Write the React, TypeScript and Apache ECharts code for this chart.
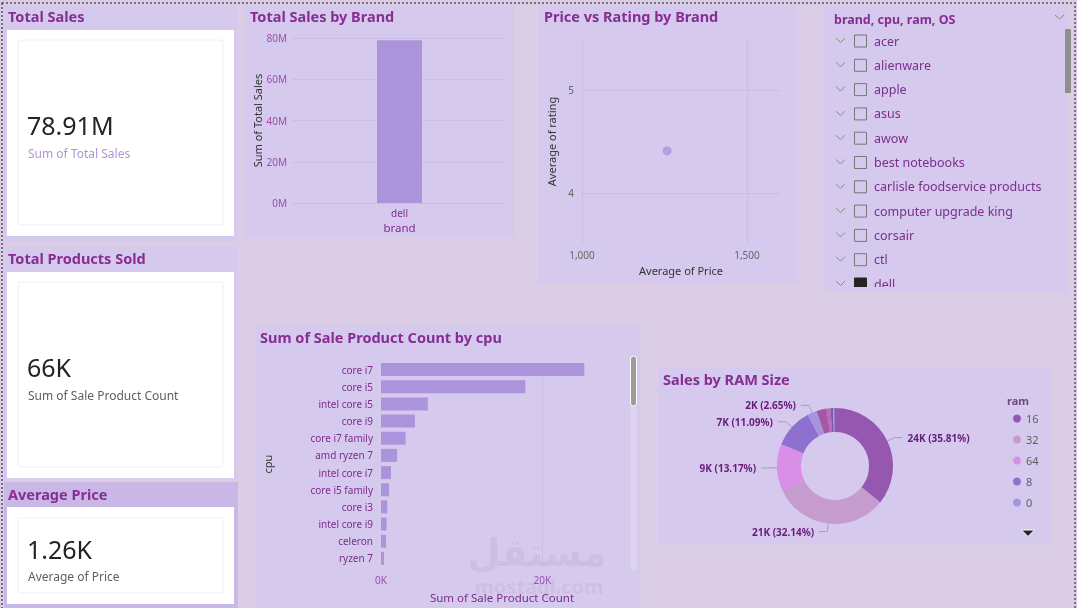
import React, { useEffect, useRef } from "react";
import * as echarts from "echarts";

// ---------- data ----------
const kpiTitles = ["Total Sales", "Total Products Sold", "Average Price"];
const kpiValues = ["78.91M", "66K", "1.26K"];
const kpiSubtitles = ["Sum of Total Sales", "Sum of Sale Product Count", "Average of Price"];

const brandCategories = ["dell"];
const brandSales = [78910000];
const brandTicks = { min: 0, max: 80000000, interval: 20000000 };

const scatterBrands = ["dell"];
const scatterPrice = [1258];
const scatterRating = [4.41];

const cpuCategories = [
  "core i7", "core i5", "intel core i5", "core i9", "core i7 family", "amd ryzen 7",
  "intel core i7", "core i5 family", "core i3", "intel core i9", "celeron", "ryzen 7",
];
const cpuCounts = [25200, 17900, 5800, 4200, 3050, 2000, 1240, 1000, 780, 690, 620, 370];

const ramLabels = ["16", "32", "64", "8", "0", "12", "6", "4", "20", "128"];
const ramCounts = [23642, 21219, 8695, 7322, 1750, 1850, 700, 500, 200, 143];
const ramLegend = ["16", "32", "64", "8", "0"];

const slicerTitle = "brand, cpu, ram, OS";
const slicerItems = [
  "acer", "alienware", "apple", "asus", "awow", "best notebooks",
  "carlisle foodservice products", "computer upgrade king", "corsair", "ctl", "dell",
];
const slicerChecked = ["dell"];

// ---------- styles ----------
const FONT = "'Segoe UI', 'Noto Sans', 'Open Sans', sans-serif";
const PAGE_BG = "#dbcde6";
const PANEL = "#d5c9ed";
const PANEL_DARK = "#c9b8e5";
const TITLE = "#872d93";
const LABEL_PURPLE = "#7b2d8c";
const TICK_PURPLE = "#9a50aa";
const GRID = "#c3b3dc";
const BAR = "#ab94db";
const RAM_COLORS = ["#9657b0", "#c69bcd", "#d98fe8", "#8e70d0", "#a595de", "#a4589f", "#b46cc0", "#8a55a3", "#c48ad2", "#6f66d0"];

function App() {
  const ref = useRef<HTMLDivElement>(null);

  useEffect(() => {
    if (!ref.current) return;
    const chart = echarts.init(ref.current, null, { renderer: "svg" });

    const g: any[] = [];
    g.push({ type: "rect", z: -20, shape: { x: 0, y: 0, width: 1077, height: 608 }, style: { fill: PAGE_BG } });

    const panels = [
      [4, 5, 234, 236, PANEL],
      [4, 247, 234, 232, PANEL],
      [4, 482, 234, 126, PANEL_DARK],
      [245, 5, 269, 233, PANEL],
      [538, 5, 259, 278, PANEL],
      [823, 5, 245, 287, PANEL],
      [255, 325, 386, 283, PANEL],
      [658, 367, 393, 178, PANEL],
    ];
    panels.forEach(([x, y, w, h, c]) =>
      g.push({ type: "rect", z: -10, shape: { x, y, width: w, height: h }, style: { fill: c } })
    );

    const cards = [
      { card: [7, 30, 227, 206], inner: [18, 40, 205, 185], title: 16, value: 125, sub: 153, subColor: "#b094d6" },
      { card: [7, 272, 227, 206], inner: [18, 282, 205, 185], title: 258, value: 367, sub: 395, subColor: "#605e5c" },
      { card: [7, 507, 227, 97], inner: [18, 518, 205, 75], title: 494, value: 549, sub: 576, subColor: "#605e5c" },
    ];
    cards.forEach((c, i) => {
      g.push({ type: "rect", z: -5, shape: { x: c.card[0], y: c.card[1], width: c.card[2], height: c.card[3] }, style: { fill: "#ffffff" } });
      g.push({ type: "rect", z: -4, shape: { x: c.inner[0], y: c.inner[1], width: c.inner[2], height: c.inner[3], r: 3 }, style: { fill: "#ffffff", stroke: "#efefef", lineWidth: 1 } });
      g.push({ type: "text", z: 10, x: 8, y: c.title, style: { text: kpiTitles[i], fill: TITLE, fontSize: 14.5, fontWeight: "bold", fontFamily: FONT, align: "left", verticalAlign: "middle" } });
      g.push({ type: "text", z: 10, x: 27, y: c.value, style: { text: kpiValues[i], fill: "#252423", fontSize: 25, fontFamily: FONT, align: "left", verticalAlign: "middle" } });
      g.push({ type: "text", z: 10, x: 28, y: c.sub, style: { text: kpiSubtitles[i], fill: c.subColor, fontSize: 12, fontFamily: FONT, align: "left", verticalAlign: "middle" } });
    });

    const titles: [string, number, number][] = [
      ["Total Sales by Brand", 250, 16],
      ["Price vs Rating by Brand", 544, 16],
      ["Sum of Sale Product Count by cpu", 260, 337],
      ["Sales by RAM Size", 663, 379],
    ];
    titles.forEach(([t, x, y]) =>
      g.push({ type: "text", z: 10, x, y, style: { text: t, fill: TITLE, fontSize: 14.5, fontWeight: "bold", fontFamily: FONT, align: "left", verticalAlign: "middle" } })
    );

    // slicer
    g.push({ type: "text", z: 10, x: 834, y: 19, style: { text: slicerTitle, fill: TITLE, fontSize: 12.5, fontWeight: "bold", fontFamily: FONT, align: "left", verticalAlign: "middle" } });
    g.push({ type: "polyline", z: 10, shape: { points: [[1055, 15], [1059.5, 19], [1064, 15]] }, style: { stroke: "#8a8a8a", lineWidth: 1, fill: "none" } });
    slicerItems.forEach((name, i) => {
      const cy = 41 + i * 24.3;
      const checked = slicerChecked.includes(name);
      g.push({ type: "polyline", z: 10, shape: { points: [[836, cy - 3], [840.5, cy + 1.5], [845, cy - 3]] }, style: { stroke: "#8a8a8a", lineWidth: 1, fill: "none" } });
      g.push({ type: "rect", z: 10, shape: { x: 854.5, y: cy - 6, width: 12, height: 12 }, style: { fill: checked ? "#252423" : "none", stroke: checked ? "#252423" : "#777777", lineWidth: 1 } });
      g.push({ type: "text", z: 10, x: 874, y: cy, style: { text: name, fill: LABEL_PURPLE, fontSize: 12.5, fontFamily: FONT, align: "left", verticalAlign: "middle" } });
    });
    // list viewport clipping at the slicer bottom
    g.push({ type: "rect", z: 12, shape: { x: 824, y: 287, width: 240, height: 5 }, style: { fill: PANEL } });
    g.push({ type: "rect", z: 12, shape: { x: 823, y: 292, width: 245, height: 20 }, style: { fill: PAGE_BG } });
    g.push({ type: "rect", z: 10, shape: { x: 1065, y: 29, width: 6, height: 64, r: 1 }, style: { fill: "#8f8f8f" } });

    // cpu scrollbar
    g.push({ type: "rect", z: 10, shape: { x: 630.5, y: 405, width: 6, height: 166, r: 3 }, style: { fill: "#ddd3ee" } });
    g.push({ type: "rect", z: 10, shape: { x: 630.5, y: 356, width: 6, height: 50, r: 3 }, style: { fill: "#9c9c9c", stroke: "#ffffff", lineWidth: 1 } });

    // ram legend title & arrow
    g.push({ type: "text", z: 10, x: 1007, y: 400, style: { text: "ram", fill: "#6e4a80", fontSize: 11, fontWeight: "bold", fontFamily: FONT, align: "left", verticalAlign: "middle" } });
    g.push({ type: "polygon", z: 10, shape: { points: [[1021.5, 530], [1034.5, 530], [1028, 536.5]] }, style: { fill: "#252423", stroke: "#ffffff", lineWidth: 1 } });

    // watermark
    g.push({ type: "text", z: 15, x: 537, y: 553, style: { text: "مستقل", fill: "rgba(140,130,150,0.12)", fontSize: 38, fontWeight: "bold", fontFamily: "'DejaVu Sans', sans-serif", align: "center", verticalAlign: "middle" } });
    g.push({ type: "text", z: 15, x: 539, y: 586, style: { text: "mostaql.com", fill: "rgba(140,130,150,0.12)", fontSize: 20, fontWeight: "bold", fontFamily: FONT, align: "center", verticalAlign: "middle" } });

    // dotted frame
    g.push({ type: "rect", z: 20, shape: { x: 2, y: 3, width: 1073, height: 640 }, style: { fill: "none", stroke: "#555555", lineWidth: 1.5, lineDash: [2, 2] } });

    const axisNameDark = { color: "#333333", fontSize: 11, fontFamily: FONT };

    const option: any = {
      animation: false,
      textStyle: { fontFamily: FONT },
      graphic: { elements: g },
      grid: [
        { left: 293, top: 38, width: 213, height: 165 },
        { left: 582, top: 38, width: 198, height: 207 },
        { left: 381, top: 361, width: 242, height: 206 },
      ],
      xAxis: [
        {
          gridIndex: 0, type: "category", data: brandCategories,
          axisLine: { show: false }, axisTick: { show: false },
          axisLabel: { color: LABEL_PURPLE, fontSize: 10, margin: 5 },
          name: "brand", nameLocation: "middle", nameGap: 18,
          nameTextStyle: { color: LABEL_PURPLE, fontSize: 11.5, fontFamily: FONT },
        },
        {
          gridIndex: 1, type: "value", min: 1000, max: 1600, interval: 500,
          axisLine: { show: false }, axisTick: { show: false },
          axisLabel: { color: "#666666", fontSize: 10, margin: 5, showMaxLabel: false, formatter: (v: number) => v.toLocaleString("en-US") },
          splitLine: { show: true, lineStyle: { type: "dotted", color: [GRID, GRID, "transparent"] } },
          name: "Average of Price", nameLocation: "middle", nameGap: 20, nameTextStyle: axisNameDark,
        },
        {
          gridIndex: 2, type: "value", min: 0, max: 30000, interval: 20000,
          axisLine: { show: false }, axisTick: { show: false },
          axisLabel: { color: TICK_PURPLE, fontSize: 10, margin: 8, showMaxLabel: false, formatter: (v: number) => `${v / 1000}K` },
          splitLine: { show: true, lineStyle: { type: "dotted", color: ["transparent", GRID, "transparent"] } },
          name: "Sum of Sale Product Count", nameLocation: "middle", nameGap: 24,
          nameTextStyle: { color: LABEL_PURPLE, fontSize: 11.5, fontFamily: FONT },
        },
      ],
      yAxis: [
        {
          gridIndex: 0, type: "value", min: brandTicks.min, max: brandTicks.max, interval: brandTicks.interval,
          axisLine: { show: false }, axisTick: { show: false },
          axisLabel: { color: TICK_PURPLE, fontSize: 10, margin: 6, formatter: (v: number) => `${v / 1000000}M` },
          splitLine: { show: true, lineStyle: { type: "dotted", color: GRID } },
          name: "Sum of Total Sales", nameLocation: "middle", nameGap: 30, nameTextStyle: axisNameDark,
        },
        {
          gridIndex: 1, type: "value", min: 3.5, max: 5.5, interval: 0.5,
          axisLine: { show: false }, axisTick: { show: false },
          axisLabel: { color: "#666666", fontSize: 10, margin: 8, formatter: (v: number) => (Number.isInteger(v) ? String(v) : "") },
          splitLine: { show: true, lineStyle: { type: "dotted", color: ["transparent", GRID] } },
          name: "Average of rating", nameLocation: "middle", nameGap: 25, nameTextStyle: axisNameDark,
        },
        {
          gridIndex: 2, type: "category", data: cpuCategories, inverse: true,
          axisLine: { show: false }, axisTick: { show: false },
          axisLabel: { color: LABEL_PURPLE, fontSize: 10, margin: 8 },
          name: "cpu", nameLocation: "middle", nameGap: 108,
          nameTextStyle: { color: "#333333", fontSize: 11, fontFamily: FONT },
        },
      ],
      legend: {
        data: ramLegend, orient: "vertical", left: 1008, top: 407, icon: "circle",
        itemWidth: 8, itemHeight: 8, itemGap: 8,
        textStyle: { color: "#605e5c", fontSize: 11, lineHeight: 13, fontFamily: FONT },
      },
      series: [
        {
          type: "bar", xAxisIndex: 0, yAxisIndex: 0, data: brandSales, barWidth: 45,
          itemStyle: { color: BAR },
        },
        {
          type: "scatter", xAxisIndex: 1, yAxisIndex: 1, symbolSize: 9,
          data: scatterBrands.map((b, i) => ({ name: b, value: [scatterPrice[i], scatterRating[i]] })),
          itemStyle: { color: BAR },
        },
        {
          type: "bar", xAxisIndex: 2, yAxisIndex: 2, data: cpuCounts, barWidth: 13,
          itemStyle: { color: BAR },
        },
        {
          type: "pie", center: [835, 466], radius: [34, 58], startAngle: 90, clockwise: true,
          avoidLabelOverlap: true,
          data: ramLabels.map((n, i) => ({
            name: n, value: ramCounts[i], itemStyle: { color: RAM_COLORS[i] },
            label: { show: i < 5 }, labelLine: { show: i < 5 },
          })),
          label: {
            position: "outside", color: "#6a1b7a", fontSize: 10, fontWeight: "bold", fontFamily: FONT,
            formatter: (p: any) => `${Math.round(p.value / 1000)}K (${p.percent.toFixed(2)}%)`,
          },
          labelLine: { length: 8, length2: 8, lineStyle: { color: "#a8a0b0", width: 1 } },
        },
      ],
    };

    chart.setOption(option);
    return () => chart.dispose();
  }, []);

  return <div ref={ref} style={{ position: "fixed", left: 0, top: 0, width: 1077, height: 608 }} />;
}

export default App;
